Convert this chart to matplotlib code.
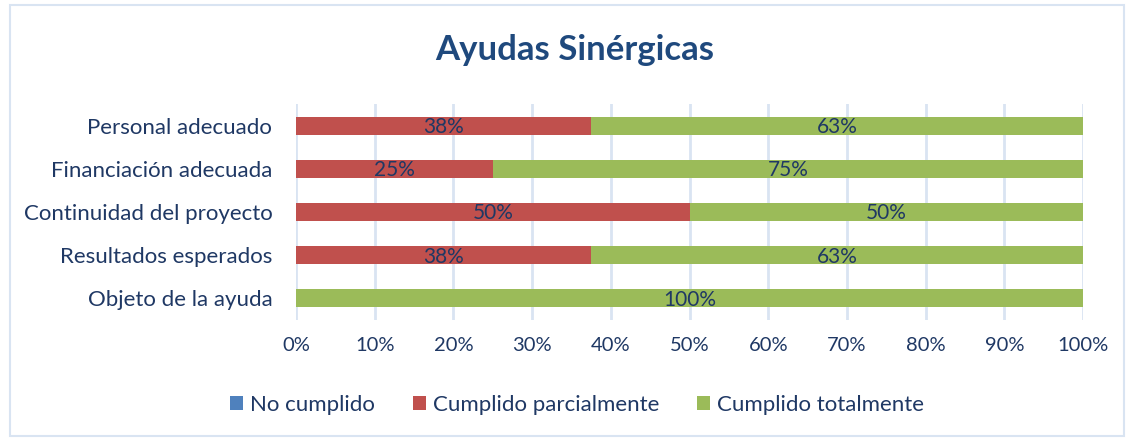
import matplotlib.pyplot as plt
from matplotlib.patches import Rectangle

plt.rcParams['font.family'] = ['Lato', 'DejaVu Sans']

categorias = ['Objeto de la ayuda', 'Resultados esperados', 'Continuidad del proyecto',
              'Financiación adecuada', 'Personal adecuado']
no_cumplido = [0, 0, 0, 0, 0]
parcial = [0, 37.5, 50, 25, 37.5]
total = [100, 62.5, 50, 75, 62.5]

series = [('No cumplido', no_cumplido, '#4F81BD'),
          ('Cumplido parcialmente', parcial, '#C0504D'),
          ('Cumplido totalmente', total, '#9BBB59')]

txt = '#1F3864'

fig = plt.figure(figsize=(11.31, 4.4), dpi=100)
ax = fig.add_axes([0.2617, 0.2727, 0.6959, 0.4909])

left = [0] * len(categorias)
for nombre, vals, color in series:
    bars = ax.barh(categorias, vals, left=left, height=0.42, color=color, label=nombre, zorder=3)
    for b, v in zip(bars, vals):
        if v > 0:
            ax.text(b.get_x() + b.get_width() / 2, b.get_y() + b.get_height() / 2 - 0.03,
                    f'{int(v + 0.5)}%', ha='center', va='center', fontsize=15, color=txt, zorder=4)
    left = [l + v for l, v in zip(left, vals)]

ax.set_xlim(0, 100)
ax.set_ylim(-0.5, 4.5)
ax.set_xticks(range(0, 101, 10))
ax.set_xticklabels([f'{t}%' for t in range(0, 101, 10)])
ax.tick_params(axis='both', length=0, labelcolor=txt)
ax.tick_params(axis='x', pad=12, labelsize=14.5)
ax.tick_params(axis='y', pad=17, labelsize=16)
ax.grid(axis='x', color='#D9E4F2', linewidth=2, zorder=0)
for s in ax.spines.values():
    s.set_visible(False)

fig.suptitle('Ayudas Sinérgicas', x=0.508, y=0.886, va='center', fontsize=25,
             fontweight='bold', color='#1F497D')

ax.legend(loc='center', bbox_to_anchor=(0.357, -0.393), ncol=3, frameon=False, fontsize=16,
          labelcolor=txt, handlelength=0.6, handleheight=0.6, handletextpad=0.3, columnspacing=1.7)

fig.patches.append(Rectangle((0.009, 0.01), 0.985, 0.978, transform=fig.transFigure,
                             fill=False, edgecolor='#D9E4F2', linewidth=1.5))

fig.savefig('out.png', dpi=100)
